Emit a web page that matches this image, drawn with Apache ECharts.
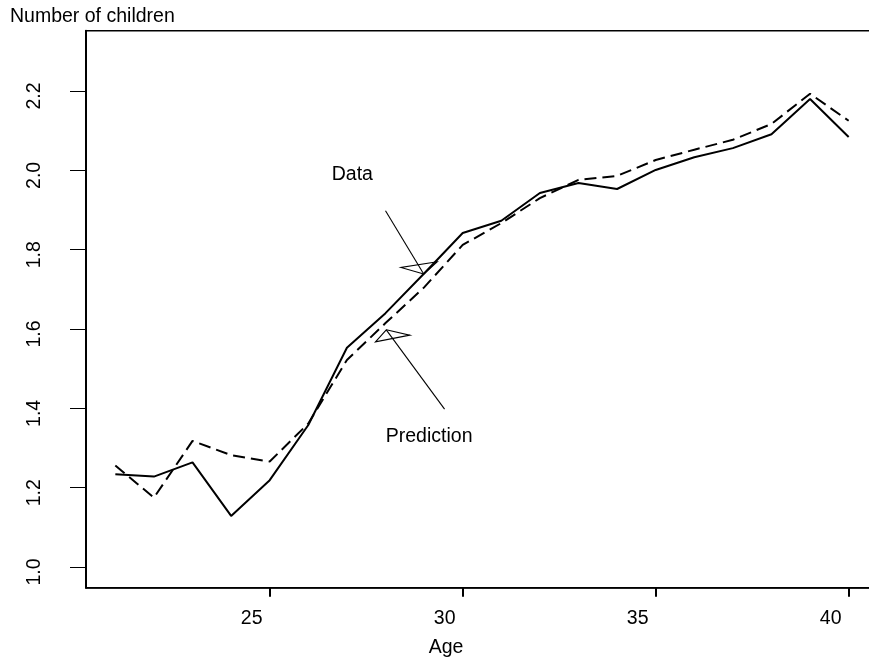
<!DOCTYPE html>
<html>
<head>
<meta charset="utf-8">
<script src="https://cdn.jsdelivr.net/npm/echarts@6/dist/echarts.min.js"></script>
<style>
  html, body { margin: 0; padding: 0; background: #fff; }
  #chart { width: 869px; height: 661px; }
</style>
</head>
<body>
<div id="chart"></div>
<script>
// ---- data ----
const ages = [21, 22, 23, 24, 25, 26, 27, 28, 29, 30, 31, 32, 33, 34, 35, 36, 37, 38, 39, 40];
const observed = [1.234, 1.228, 1.264, 1.129, 1.219, 1.358, 1.553, 1.640, 1.740, 1.842,
                  1.873, 1.943, 1.968, 1.953, 2.001, 2.033, 2.056, 2.091, 2.180, 2.084];
const predicted = [1.256, 1.175, 1.318, 1.282, 1.266, 1.362, 1.522, 1.615, 1.705, 1.812,
                   1.867, 1.930, 1.976, 1.986, 2.026, 2.052, 2.077, 2.117, 2.193, 2.125];
const xTicks = [25, 30, 35, 40];
const yTicks = [1.0, 1.2, 1.4, 1.6, 1.8, 2.0, 2.2];

// ---- annotations (data coordinates) ----
const annoLabels = ['Data', 'Prediction'];
const annoTextAge = [27.14, 29.13];
const annoTextVal = [1.989, 1.330];
const arrowFromAge = [28.00, 29.53];
const arrowFromVal = [1.898, 1.398];
const arrowTipAge = [28.99, 28.02];
const arrowTipVal = [1.7385, 1.598];
const headAAge = [28.40, 28.63];
const headAVal = [1.7552, 1.5847];
const headBAge = [29.34, 27.74];
const headBVal = [1.7695, 1.5678];

const FONT = '"Liberation Sans", Arial, Helvetica, sans-serif';
const FS = 19.5;

const chart = echarts.init(document.getElementById('chart'));
const option = {
  animation: false,
  backgroundColor: '#fff',
  title: {
    text: 'Number of children',
    left: 10, top: 6.5, padding: 0,
    textStyle: { fontFamily: FONT, fontSize: FS, fontWeight: 'normal', color: '#000' }
  },
  grid: {
    left: 86, top: 30.7, width: 792, height: 557,
    containLabel: false, outerBoundsMode: 'none',
    show: true, borderColor: '#000', borderWidth: 1.5, backgroundColor: 'transparent'
  },
  xAxis: {
    type: 'value', min: 20.24, max: 40.76,
    name: 'Age', nameLocation: 'middle', nameGap: 50,
    nameTextStyle: { fontFamily: FONT, fontSize: FS, color: '#000', padding: [0, 72, 0, 0] },
    axisLine: { show: true, lineStyle: { color: '#000', width: 1.5 } },
    axisTick: { show: true, length: 9, lineStyle: { color: '#000', width: 2 }, customValues: xTicks },
    axisLabel: { customValues: xTicks, margin: 21, fontFamily: FONT, fontSize: FS, color: '#000',
                 padding: [0, 36, 0, 0] },
    splitLine: { show: false }
  },
  yAxis: {
    type: 'value', min: 0.948, max: 2.352,
    axisLine: { show: true, lineStyle: { color: '#000', width: 2 } },
    axisTick: { show: true, length: 16, lineStyle: { color: '#000', width: 1 }, customValues: yTicks },
    axisLabel: { customValues: yTicks, rotate: 90, margin: 41, fontFamily: FONT, fontSize: FS, color: '#000',
                 formatter: v => v.toFixed(1), padding: [0, 10, 0, 0] },
    splitLine: { show: false }
  },
  series: [
    {
      name: 'Data', type: 'line', symbol: 'none',
      data: ages.map((a, i) => [a, observed[i]]),
      lineStyle: { color: '#000', width: 2, type: 'solid' }, z: 3
    },
    {
      name: 'Prediction', type: 'line', symbol: 'none',
      data: ages.map((a, i) => [a, predicted[i]]),
      lineStyle: { color: '#000', width: 2, type: [12, 6] }, z: 3
    },
    {
      type: 'custom', silent: true, z: 5, clip: false,
      data: annoLabels.map((_, i) => [arrowTipAge[i], arrowTipVal[i]]),
      renderItem: function (params, api) {
        const i = params.dataIndex;
        const tip = api.coord([arrowTipAge[i], arrowTipVal[i]]);
        const from = api.coord([arrowFromAge[i], arrowFromVal[i]]);
        const ha = api.coord([headAAge[i], headAVal[i]]);
        const hb = api.coord([headBAge[i], headBVal[i]]);
        const tp = api.coord([annoTextAge[i], annoTextVal[i]]);
        return {
          type: 'group',
          children: [
            { type: 'line', shape: { x1: from[0], y1: from[1], x2: tip[0], y2: tip[1] },
              style: { stroke: '#000', lineWidth: 1.1, fill: null } },
            { type: 'polygon', shape: { points: [tip, ha, hb] },
              style: { stroke: '#000', lineWidth: 1.1, fill: 'none' } },
            { type: 'text', x: tp[0], y: tp[1],
              style: { text: annoLabels[i], fill: '#000', font: FS + 'px ' + FONT,
                       align: 'center', verticalAlign: 'middle' } }
          ]
        };
      }
    }
  ]
};
chart.setOption(option);
</script>
</body>
</html>
